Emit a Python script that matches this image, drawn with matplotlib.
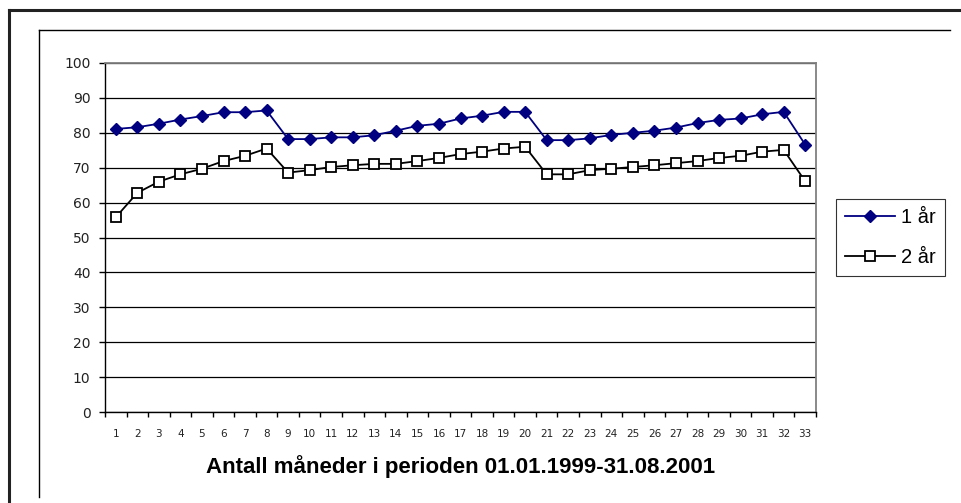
import matplotlib
matplotlib.use("Agg")
import matplotlib.pyplot as plt
from matplotlib.lines import Line2D
import numpy as np

months = list(range(1, 34))
one_year = [81.1, 81.6, 82.6, 83.8, 84.8, 85.9, 85.9, 86.4, 78.2, 78.2, 78.7,
            78.7, 79.3, 80.6, 82.0, 82.6, 84.1, 84.9, 86.0, 86.0, 77.9, 77.9,
            78.4, 79.4, 80.0, 80.6, 81.5, 82.8, 83.7, 84.1, 85.3, 86.0, 76.6]
two_year = [55.8, 62.8, 66.0, 68.1, 69.7, 71.9, 73.4, 75.5, 68.6, 69.3, 70.2,
            70.7, 71.1, 71.1, 71.9, 72.8, 73.9, 74.6, 75.5, 76.0, 68.1, 68.1,
            69.3, 69.7, 70.2, 70.7, 71.3, 71.9, 72.8, 73.4, 74.6, 75.1, 66.1]
y_ticks = list(range(0, 101, 10))
xlabel = "Antall måneder i perioden 01.01.1999-31.08.2001"

W, H = 961, 503
fig = plt.figure(figsize=(W / 100, H / 100), dpi=100)

# frames around the chart
def fig_line(xs, ys, **kw):
    fig.add_artist(Line2D([x / W for x in xs], [1 - y / H for y in ys],
                          transform=fig.transFigure, **kw))

fig_line([9, W + 5], [10, 10], color="#222222", lw=2.2)
fig_line([9, 9], [10, H + 5], color="#222222", lw=2.2)
fig_line([39, 950], [30, 30], color="black", lw=1)
fig_line([39, 39], [30, 497], color="black", lw=1)

ax = fig.add_axes([105 / W, 1 - 412 / H, (816 - 105) / W, (412 - 63) / H])

ax.plot(months, one_year, color="#000080", lw=1.3, marker="D", markersize=6.5,
        markerfacecolor="#000080", markeredgecolor="#000080", label="1 år",
        zorder=3)
ax.plot(months, two_year, color="black", lw=1.3, marker="s", markersize=7,
        markerfacecolor="white", markeredgecolor="black", markeredgewidth=1.3,
        label="2 år", zorder=3)

ax.set_xlim(0.5, 33.5)
ax.set_ylim(0, 100)
ax.set_yticks(y_ticks)
ax.set_yticklabels([str(v) for v in y_ticks], fontsize=10, family="DejaVu Sans",
                   color="#222222")
ax.yaxis.grid(True, color="black", lw=0.9)
ax.set_axisbelow(True)

ax.set_xticks(np.arange(0.5, 34, 1))
ax.set_xticklabels([])
ax.set_xticks(months, minor=True)
ax.set_xticklabels([str(m) for m in months], minor=True, fontsize=7.5,
                   family="DejaVu Sans", color="#222222")
ax.tick_params(axis="x", which="major", direction="out", length=3.5, width=1)
ax.tick_params(axis="x", which="minor", length=0, pad=12)
ax.tick_params(axis="y", direction="out", length=4.5, width=1, pad=6)

for s in ("top", "right"):
    ax.spines[s].set_color("#808080")
    ax.spines[s].set_linewidth(1.3)
for s in ("left", "bottom"):
    ax.spines[s].set_color("black")
    ax.spines[s].set_linewidth(1)

ax.set_xlabel(xlabel, fontsize=16, fontweight="bold", family="Liberation Sans",
              labelpad=12)

leg = fig.legend(loc="upper left", bbox_to_anchor=(836 / W, 1 - 199 / H),
                 frameon=True, fancybox=False, prop={"family": "Liberation Sans",
                                                     "size": 14.5},
                 handlelength=2.5, handletextpad=0.3, borderpad=0.45,
                 labelspacing=1.05, borderaxespad=0)
leg.get_frame().set_edgecolor("black")
leg.get_frame().set_linewidth(0.8)

fig.savefig("out.png", dpi=100)
